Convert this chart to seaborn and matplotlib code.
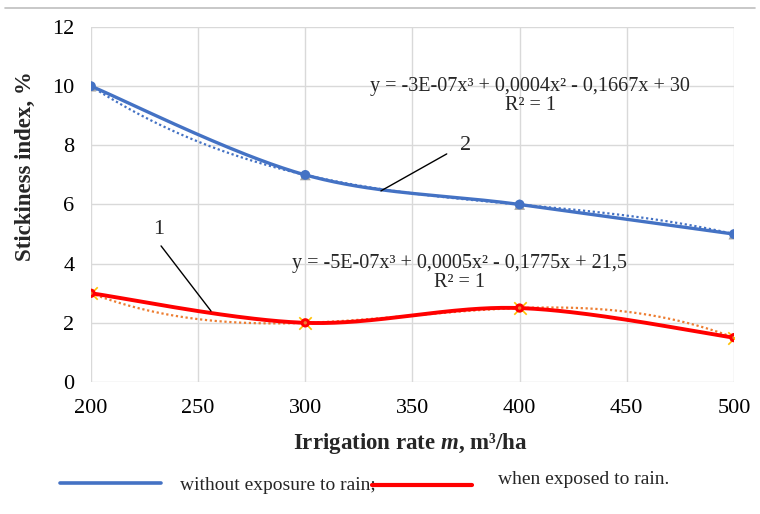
# Stickiness index vs irrigation rate
import numpy as np
import pandas as pd
import matplotlib.pyplot as plt
from matplotlib.lines import Line2D
import seaborn as sns

# data
irrigation = [200, 300, 400, 500]
no_rain = [10, 7, 6, 5]
with_rain = [3, 2, 2.5, 1.5]
x_ticks = [200, 250, 300, 350, 400, 450, 500]
y_ticks = [0, 2, 4, 6, 8, 10, 12]
eq_no_rain = "y = -3E-07x³ + 0,0004x² - 0,1667x + 30\nR² = 1"
eq_rain = "y = -5E-07x³ + 0,0005x² - 0,1775x + 21,5\nR² = 1"

sns.set_theme(style="white")
plt.rcParams['font.family'] = ['Liberation Serif', 'DejaVu Serif']
plt.rcParams['mathtext.fontset'] = 'custom'
plt.rcParams['mathtext.rm'] = 'Liberation Serif:bold'
plt.rcParams['mathtext.it'] = 'Liberation Serif:italic:bold'

BLUE = '#4472C4'
RED = '#FF0000'
ORANGE = '#ED7D31'
GRID = '#D9D9D9'


def smooth(xs, ys, n=60):
    # Excel-like smoothed line (Catmull-Rom bezier)
    p = np.column_stack([xs, ys]).astype(float)
    pts = []
    for i in range(len(p) - 1):
        p0 = p[i - 1] if i > 0 else p[i]
        p3 = p[i + 2] if i + 2 < len(p) else p[i + 1]
        c1 = p[i] + (p[i + 1] - p0) / 6
        c2 = p[i + 1] - (p3 - p[i]) / 6
        t = np.linspace(0, 1, n)[:, None]
        seg = ((1 - t) ** 3 * p[i] + 3 * (1 - t) ** 2 * t * c1
               + 3 * (1 - t) * t ** 2 * c2 + t ** 3 * p[i + 1])
        pts.append(seg)
    pts = np.vstack(pts)
    return pts[:, 0], pts[:, 1]


def trend(xs, ys):
    coef = np.polyfit(xs, ys, 3)
    xx = np.linspace(min(xs), max(xs), 200)
    return xx, np.polyval(coef, xx)


fig = plt.figure(figsize=(7.6, 5.14), dpi=100)
ax = fig.add_axes([0.1197, 0.2568, 0.846, 0.6907])

# trendlines (dotted)
tx, ty = trend(irrigation, no_rain)
sns.lineplot(x=tx, y=ty, ax=ax, color=BLUE, lw=1.6, linestyle=(0, (1, 1.2)))
tx, ty = trend(irrigation, with_rain)
sns.lineplot(x=tx, y=ty, ax=ax, color=ORANGE, lw=1.6, linestyle=(0, (1, 1.2)))

# smoothed series
sx, sy = smooth(irrigation, no_rain)
sns.lineplot(x=sx, y=sy, ax=ax, color=BLUE, lw=2.4, sort=False)
sx, sy = smooth(irrigation, with_rain)
sns.lineplot(x=sx, y=sy, ax=ax, color=RED, lw=2.8, sort=False)

# markers
df = pd.DataFrame({'m': irrigation, 'a': no_rain, 'b': with_rain})
sns.scatterplot(data=df, x='m', y='a', ax=ax, marker='^', s=60, color='#A5A5A5',
                edgecolor='none', zorder=4)
sns.scatterplot(data=df, x='m', y='a', ax=ax, marker='o', s=50, color=BLUE,
                edgecolor='none', zorder=5)
sns.scatterplot(data=df, x='m', y='b', ax=ax, marker='x', s=80, color='#FFC000',
                linewidth=1.2, zorder=4)
sns.scatterplot(data=df, x='m', y='b', ax=ax, marker='o', s=45, color=RED,
                edgecolor='none', zorder=5)
sns.scatterplot(data=df, x='m', y='b', ax=ax, marker='o', s=6, color=ORANGE,
                edgecolor='none', zorder=6)

ax.set_xlim(200, 500)
ax.set_ylim(0, 12)
ax.set_xticks(x_ticks)
ax.set_yticks(y_ticks)
ax.grid(True, color=GRID, lw=1)
ax.set_axisbelow(True)
for s in ax.spines.values():
    s.set_visible(False)
ax.tick_params(length=0, labelsize=16, pad=12, colors='#000000')
ax.set_xlabel('')
ax.set_ylabel('')

# equations
ax.text(405, 9.67, eq_no_rain, ha='center', va='center', fontsize=14.5,
        multialignment='center', linespacing=1.05)
ax.text(372, 3.68, eq_rain, ha='center', va='center', fontsize=14.5,
        multialignment='center', linespacing=1.05)

# curve numbers
ax.text(231.7, 5.14, '1', ha='center', va='center', fontsize=16)
ax.plot([232.7, 256], [4.6, 2.4], color='black', lw=1, zorder=6)
ax.text(375, 8.0, '2', ha='center', va='center', fontsize=16)
ax.plot([366, 335.3], [7.71, 6.46], color='black', lw=1, zorder=6)

# axis titles
fig.text(410 / 760, 1 - 444 / 514, r'Irrigation rate $m$, m³/ha', ha='center', va='center',
         fontsize=16.5, fontweight='bold')
fig.text(25 / 760, 1 - 166 / 514, 'Stickiness index, %', ha='center', va='center',
         rotation=90, fontsize=16.5, fontweight='bold')

# top rule
fig.add_artist(Line2D([5 / 760, 755 / 760], [1 - 8 / 514, 1 - 8 / 514], color='#BFBFBF', lw=1.2))

# legend
fig.add_artist(Line2D([60 / 760, 161 / 760], [1 - 483 / 514] * 2, color=BLUE, lw=2.6))
fig.text(180 / 760, 1 - 485 / 514, 'without exposure to rain;', ha='left', va='center', fontsize=14)
fig.add_artist(Line2D([372 / 760, 472 / 760], [1 - 485 / 514] * 2, color=RED, lw=3))
fig.text(498 / 760, 1 - 480 / 514, 'when exposed to rain.', ha='left', va='center', fontsize=14)

fig.savefig('out.png', dpi=100)
